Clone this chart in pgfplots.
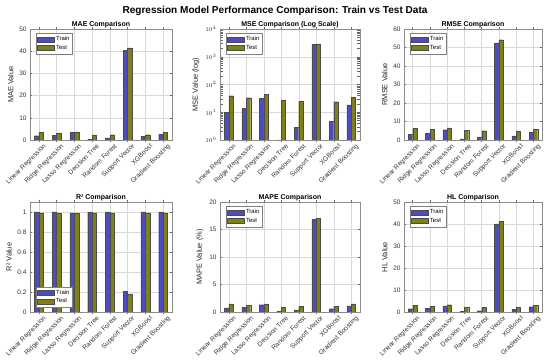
\documentclass[border=0pt]{standalone}
\usepackage{fontspec}
\setmainfont{Liberation Sans}
\usepackage{pgfplots}
\pgfplotsset{compat=1.18}
\definecolor{trainc}{RGB}{77,77,191}
\definecolor{testc}{RGB}{128,128,26}
\pgfplotsset{
  panel/.style={
    scale only axis, anchor=south west,
    ybar, bar width=0.25,
    xmin=0.5, xmax=8.5,
    xtick={1,...,8},
    xticklabels={Linear Regression,Ridge Regression,Lasso Regression,Decision Tree,Random Forest,Support Vector,XGBoost,Gradient Boosting},
    xticklabel style={xshift=4bp, rotate=45, anchor=north east, font=\fontsize{6.6}{7}\selectfont, inner sep=0.8pt, text=black!80},
    yticklabel style={font=\fontsize{6.5}{7}\selectfont, text=black!80},
    /pgf/number format/assume math mode=true,
    ylabel style={font=\fontsize{7.5}{8}\selectfont, text=black!85, yshift=-1bp},
    every axis title/.style={at={(0.5,1)}, anchor=base, yshift=2.2bp, font=\bfseries\fontsize{7}{8}\selectfont},
    axis line style={draw=black!45, line width=0.4bp},
    major tick length=2bp,
    tick style={draw=black!60, line width=0.3bp},
    grid=major,
    major grid style={draw=black!15, line width=0.3bp},
    legend style={font=\fontsize{6}{6.5}\selectfont, draw=black!50, line width=0.3bp, inner sep=1pt, row sep=-1pt, at={(0.04,0.96)}, anchor=north west, cells={anchor=west}},
    legend image code/.code={\draw[#1, line width=0.3bp] (0bp,-2.2bp) rectangle (17bp,2.6bp);},
    every axis plot/.append style={draw=black!70, line width=0.25bp},
  },
  trn/.style={fill=trainc, bar shift=-0.125},
  tst/.style={fill=testc, bar shift=0.125},
}
\begin{document}
\begin{tikzpicture}
\useasboundingbox (0,0) rectangle (550bp,361bp);
\node[font=\bfseries\fontsize{10.1}{12}\selectfont, anchor=base] at (275bp,347bp) {Regression Model Performance Comparison: Train vs Test Data};
% MAE
\begin{axis}[panel, at={(30bp,221bp)}, width=142bp, height=111bp,
  ymin=0, ymax=50, ytick={0,10,...,50}, ylabel={MAE Value}, title={MAE Comparison}]
\addplot[trn] coordinates {(1,1.95) (2,2.2) (3,3.4) (4,0.3) (5,1.0) (6,40.5) (7,1.6) (8,2.7)};
\addplot[tst] coordinates {(1,3.55) (2,3.2) (3,3.7) (4,2.3) (5,2.4) (6,41.5) (7,2.4) (8,3.4)};
\legend{Train,Test}
\end{axis}
% MSE
\begin{axis}[panel, at={(220bp,221bp)}, width=140bp, height=111bp,
  ymode=log, log origin=infty, ymin=1, ymax=10000, ytick={1,10,100,1000,10000},
  ylabel={MSE Value (log)}, title={MSE Comparison (Log Scale)}]
\addplot[trn] coordinates {(1,10.2) (2,13.7) (3,31.4) (4,0.36) (5,2.9) (6,2756) (7,4.8) (8,18.5)};
\addplot[tst] coordinates {(1,39.7) (2,33.6) (3,43.6) (4,28) (5,25) (6,2938) (7,24) (8,34.8)};
\legend{Train,Test}
\end{axis}
% RMSE
\begin{axis}[panel, at={(404bp,221bp)}, width=138bp, height=111bp,
  ymin=0, ymax=60, ytick={0,10,...,60}, ylabel={RMSE Value}, title={RMSE Comparison}]
\addplot[trn] coordinates {(1,3.2) (2,3.7) (3,5.6) (4,0.6) (5,1.7) (6,52.5) (7,2.2) (8,4.3)};
\addplot[tst] coordinates {(1,6.3) (2,5.8) (3,6.6) (4,5.3) (5,5.0) (6,54.2) (7,4.9) (8,5.9)};
\legend{Train,Test}
\end{axis}
% R2
\begin{axis}[panel, at={(30bp,49bp)}, width=142bp, height=110bp,
  ymin=0, ymax=1.1, ytick={0,0.2,...,1}, ylabel={R² Value}, title={R² Comparison},
  legend style={at={(0.04,0.04)}, anchor=south west}]
\addplot[trn] coordinates {(1,1.0) (2,1.0) (3,0.99) (4,1.0) (5,1.0) (6,0.205) (7,1.0) (8,1.0)};
\addplot[tst] coordinates {(1,0.99) (2,0.99) (3,0.99) (4,0.99) (5,0.99) (6,0.18) (7,0.99) (8,0.99)};
\legend{Train,Test}
\end{axis}
% MAPE
\begin{axis}[panel, at={(220bp,49bp)}, width=140bp, height=110bp,
  ymin=0, ymax=20, ytick={0,5,...,20}, ylabel={MAPE Value (\%)}, title={MAPE Comparison}]
\addplot[trn] coordinates {(1,0.73) (2,0.85) (3,1.34) (4,0.12) (5,0.37) (6,16.9) (7,0.6) (8,1.1)};
\addplot[tst] coordinates {(1,1.46) (2,1.2) (3,1.46) (4,0.85) (5,0.98) (6,17.0) (7,0.98) (8,1.46)};
\legend{Train,Test}
\end{axis}
% HL
\begin{axis}[panel, at={(404bp,49bp)}, width=138bp, height=110bp,
  ymin=0, ymax=50, ytick={0,10,...,50}, ylabel={HL Value}, title={HL Comparison}]
\addplot[trn] coordinates {(1,1.5) (2,1.7) (3,2.75) (4,0.3) (5,0.6) (6,40.1) (7,1.2) (8,2.4)};
\addplot[tst] coordinates {(1,3.0) (2,2.6) (3,3.35) (4,2.1) (5,2.1) (6,41.2) (7,2.1) (8,3.0)};
\legend{Train,Test}
\end{axis}
\end{tikzpicture}
\end{document}
